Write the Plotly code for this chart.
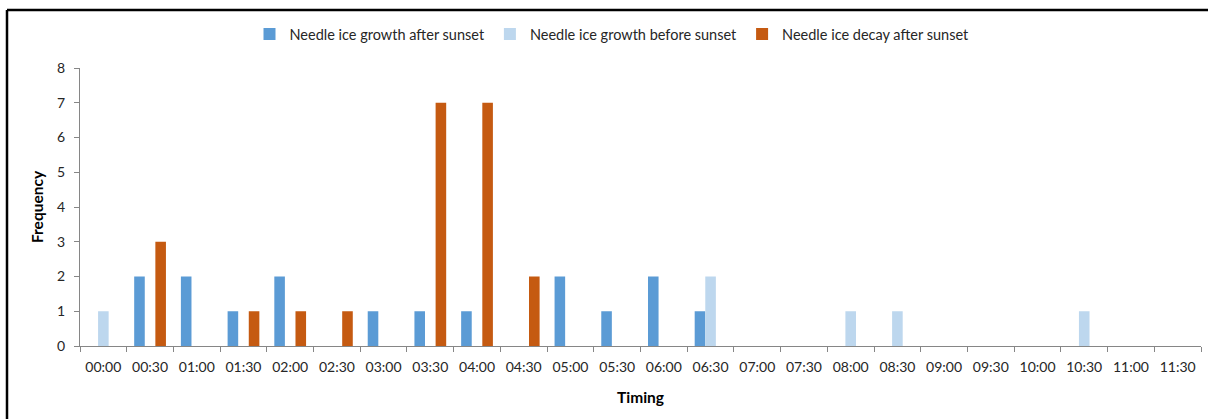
import plotly.graph_objects as go

# Half-hour time slots
timing = ["00:00", "00:30", "01:00", "01:30", "02:00", "02:30", "03:00", "03:30",
          "04:00", "04:30", "05:00", "05:30", "06:00", "06:30", "07:00", "07:30",
          "08:00", "08:30", "09:00", "09:30", "10:00", "10:30", "11:00", "11:30"]

growth_after_sunset = [0, 2, 2, 1, 2, 0, 1, 1, 1, 0, 2, 1, 2, 1, 0, 0,
                       0, 0, 0, 0, 0, 0, 0, 0]
growth_before_sunset = [1, 0, 0, 0, 0, 0, 0, 0, 0, 0, 0, 0, 0, 2, 0, 0,
                        1, 1, 0, 0, 0, 1, 0, 0]
decay_after_sunset = [0, 3, 0, 1, 1, 1, 0, 7, 7, 2, 0, 0, 0, 0, 0, 0,
                      0, 0, 0, 0, 0, 0, 0, 0]

y_ticks = [0, 1, 2, 3, 4, 5, 6, 7, 8]

FONT = "Lato, 'Open Sans', sans-serif"
W, H = 1208, 419
ML, MR, MT, MB = 80, 7, 68, 73
PW, PH = W - ML - MR, H - MT - MB

fig = go.Figure()
fig.add_trace(go.Bar(x=timing, y=growth_after_sunset, name="Needle ice growth after sunset",
                     marker=dict(color="#5B9BD5", line=dict(width=0))))
fig.add_trace(go.Bar(x=timing, y=growth_before_sunset, name="Needle ice growth before sunset",
                     marker=dict(color="#BDD7EE", line=dict(width=0))))
fig.add_trace(go.Bar(x=timing, y=decay_after_sunset, name="Needle ice decay after sunset",
                     marker=dict(color="#C55A11", line=dict(width=0))))

# Tick marks sit on the boundaries between time slots (secondary linear axis)
n = len(timing)
boundaries = [i - 0.5 for i in range(n + 1)]
fig.add_trace(go.Scatter(x=boundaries, y=[0] * len(boundaries), xaxis="x2", yaxis="y",
                         mode="markers", marker=dict(opacity=0, size=1),
                         hoverinfo="skip", showlegend=False))


def px_x(p):
    return (p - ML) / PW


def px_y(p):
    return (H - MB - p) / PH


# Outer frame: top and left edges
frame = dict(type="line", xref="paper", yref="paper", line=dict(color="#000000", width=2.5))
fig.add_shape(**frame, x0=px_x(7), x1=px_x(1215), y0=px_y(10), y1=px_y(10))
fig.add_shape(**frame, x0=px_x(7), x1=px_x(7), y0=px_y(10), y1=px_y(430))

fig.update_layout(
    width=W, height=H,
    margin=dict(l=ML, r=MR, t=MT, b=MB),
    paper_bgcolor="white", plot_bgcolor="white",
    barmode="group", bargap=0.32, bargroupgap=0,
    font=dict(family=FONT, size=12, color="#262626"),
    showlegend=True,
    legend=dict(orientation="h", x=px_x(612), xanchor="center", y=px_y(34), yanchor="middle",
                font=dict(size=14.5, color="#262626"), itemwidth=30, traceorder="normal",
                bgcolor="rgba(0,0,0,0)"),
    xaxis=dict(
        type="category", categoryorder="array", categoryarray=timing,
        range=[-0.5, n - 0.5],
        showline=True, linecolor="#868686", linewidth=1,
        ticks="", ticklabelstandoff=8,
        showgrid=False, zeroline=False,
        tickfont=dict(size=14, color="#262626"),
        title=dict(text="<b>Timing</b>", font=dict(size=15.5, color="#000000"), standoff=18),
    ),
    xaxis2=dict(
        overlaying="x", anchor="y", side="bottom", type="linear",
        range=[-0.5, n - 0.5], tickvals=boundaries,
        ticks="outside", ticklen=5, tickcolor="#868686", tickwidth=1,
        showticklabels=False, showline=False, showgrid=False, zeroline=False,
    ),
    yaxis=dict(
        range=[0, 8], tickvals=y_ticks,
        showline=True, linecolor="#868686", linewidth=1,
        ticks="outside", ticklen=5, tickcolor="#868686",
        ticklabelstandoff=6,
        showgrid=False, zeroline=False,
        tickfont=dict(size=14, color="#262626"),
        title=dict(text="<b>Frequency</b>", font=dict(size=15.5, color="#000000"), standoff=9),
    ),
)

fig.write_html("out.html")
